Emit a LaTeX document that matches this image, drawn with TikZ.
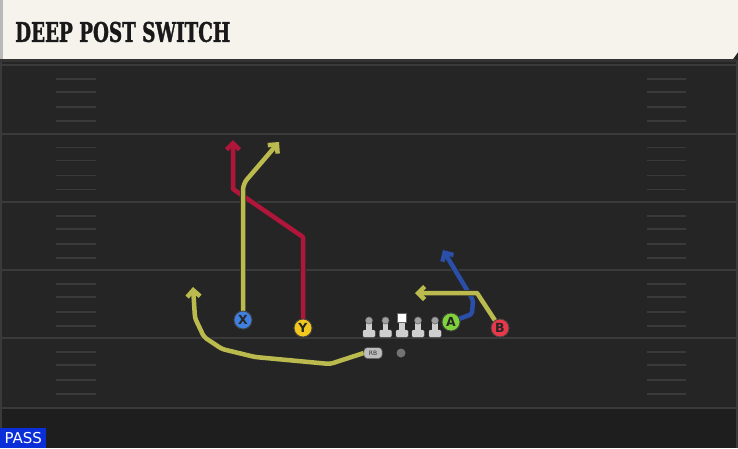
\documentclass[tikz,border=0pt]{standalone}
\usepackage{fontspec}
\newfontfamily\titlefont{DejaVu Serif}[BoldFeatures={FakeBold=1.6}]
\newfontfamily\lblfont{DejaVu Sans}
\usetikzlibrary{arrows.meta}
\definecolor{fieldbg}{HTML}{252525}
\definecolor{bottombg}{HTML}{1E1E1E}
\definecolor{yardc}{HTML}{3A3A3A}
\definecolor{hashc}{HTML}{3A3A3A}
\definecolor{headerc}{HTML}{F5F3EC}
\definecolor{ylw}{HTML}{BABA4E}
\definecolor{redr}{HTML}{B0153A}
\definecolor{bluer}{HTML}{2A4FA8}
\definecolor{xcol}{HTML}{3F7FE0}
\definecolor{ycol}{HTML}{F2C81E}
\definecolor{acol}{HTML}{7FD23A}
\definecolor{bcol}{HTML}{E8394A}
\definecolor{passc}{HTML}{0A2FD8}
\definecolor{lmlight}{HTML}{CFCFCF}
\definecolor{lmhead}{HTML}{A0A0A0}
\begin{document}
\begin{tikzpicture}[x=1pt,y=-1pt,
  yard/.style={draw=yardc, line width=2pt},
  hashm/.style={draw=hashc, line width=1.6pt},
  route/.style={line width=4.5pt, line join=round,
    -{Straight Barb[length=6.5pt,width=13pt]},
    preaction={draw=black!85, line width=6pt, -{Straight Barb[length=6.5pt,width=13pt]}}},
  yroute/.style={route, draw=ylw},
  rroute/.style={route, draw=redr},
  broute/.style={route, draw=bluer},
  player/.style={circle, minimum size=18pt, inner sep=0pt, draw=black!75, line width=0.8pt,
    font=\lblfont\bfseries\fontsize{12.5}{12.5}\selectfont, text=black!85},
  rbtag/.style={draw=black!70, fill=lmhead!70!white, rounded corners=3pt, minimum width=18pt,
    minimum height=10.5pt, inner sep=0pt, font=\lblfont\fontsize{6}{6}\selectfont, text=black!80},
]
\useasboundingbox (0,0) rectangle (738,448);
% field
\fill[fieldbg] (0,0) rectangle (738,448);
\fill[bottombg] (0,408) rectangle (738,448);
\foreach \yy in {65,133.5,202,270,338,408} \draw[yard] (0,\yy) -- (738,\yy);
\foreach \yy in {65,133.5,202,270,338} {
  \foreach \dd in {14,27,42,56} {
    \draw[hashm] (56,{\yy+\dd}) -- (96,{\yy+\dd});
    \draw[hashm] (647,{\yy+\dd}) -- (686,{\yy+\dd});
  }
}
\draw[draw=yardc, line width=2pt] (1,60) -- (1,448);
\draw[draw=yardc, line width=2pt] (737,60) -- (737,448);
% header
\fill[headerc] (0,0) -- (738,0) -- (738,52) -- (733,59) -- (0,59) -- cycle;
\fill[gray!55] (0,0) rectangle (3,59);
\draw[black!80, line width=2.5pt] (0,60.5) -- (736,60.5);
\node[anchor=west, inner sep=0pt, text=black!90] (title) at (15,32)
  {\resizebox{215pt}{20pt}{\titlefont\bfseries DEEP POST SWITCH}};
% players
\node[player, fill=xcol] (X) at (243,320) {X};
\node[player, fill=ycol] (Y) at (303,328) {Y};
\node[player, fill=acol] (A) at (451,322) {A};
\node[player, fill=bcol] (B) at (500,328) {B};
\node[rbtag] (RB) at (373,353) {RB};
\node[circle, fill=black!55, minimum size=9pt, inner sep=0pt] (QB) at (401,353) {};
% route end points
\coordinate (xt) at (279,142);
\coordinate (yt) at (233,140);
\coordinate (rbt) at (193,287);
\coordinate (bt) at (415,293);
\coordinate (at) at (443,250);
% routes
\draw[rroute] (Y.center) -- (303,237) -- (233,189) -- (yt);
\draw[yroute, rounded corners=6pt] (X.center) -- (243,184) -- (xt);
\draw[yroute, rounded corners=3pt] (RB.west) -- (330,364) -- (255,357) -- (222,349) -- (204,337) -- (195,318) -- (rbt);
\draw[broute, rounded corners=2pt] (A.center) -- (472,314) -- (473,300) -- (at);
\draw[yroute] (B.center) -- (477,293) -- (bt);
% redraw players on top
\node[player, fill=xcol] at (X) {X};
\node[player, fill=ycol] at (Y) {Y};
\node[player, fill=acol] at (A) {A};
\node[player, fill=bcol] at (B) {B};
\node[rbtag] at (RB) {RB};
% linemen
\foreach \lx in {369,385.5,418,435} {
  \fill[black!70, rounded corners=1.5pt] ({\lx-6.5},329.5) rectangle ({\lx+6.5},337.5);
  \fill[lmlight, rounded corners=1.2pt] ({\lx-6},330) rectangle ({\lx+6},337);
  \fill[lmlight] ({\lx-2.6},321) rectangle ({\lx+2.6},331);
  \fill[lmhead, draw=black!60, line width=0.5pt] (\lx,320.5) circle (3.6);
}
\fill[black!70, rounded corners=1.5pt] (395.5,329.5) rectangle (408.5,337.5);
\fill[lmlight, rounded corners=1.2pt] (396,330) rectangle (408,337);
\fill[lmlight] (399.4,321) rectangle (404.6,331);
\fill[white, draw=black!60, line width=0.5pt] (397.5,313.5) rectangle (406.5,322.5);
% PASS label
\node[fill=passc, anchor=south west, inner sep=0pt, minimum width=46pt, minimum height=20pt,
  text=white, font=\lblfont\fontsize{15}{15}\selectfont] (pass) at (0,448) {PASS};
\end{tikzpicture}
\end{document}
